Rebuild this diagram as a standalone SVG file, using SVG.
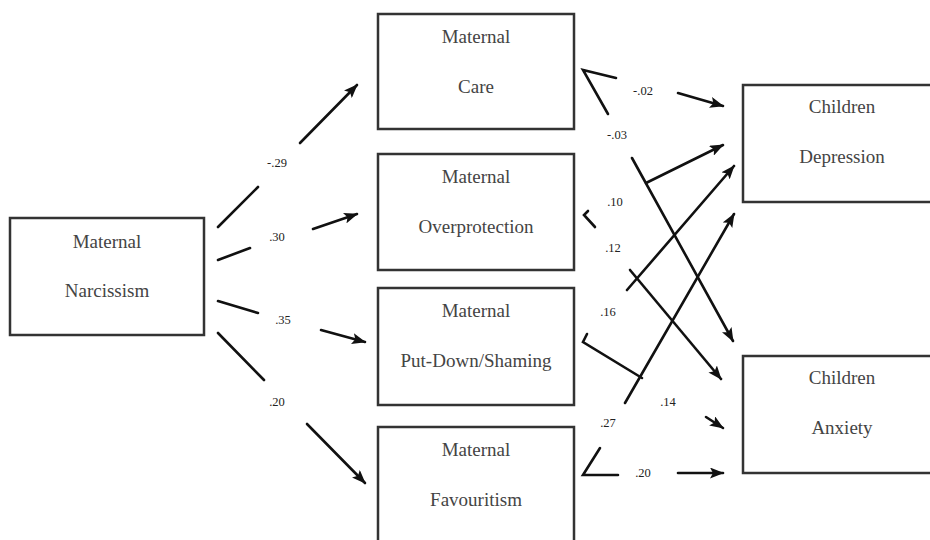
<svg xmlns="http://www.w3.org/2000/svg" width="930" height="540" viewBox="0 0 930 540">
<style>
.box{fill:#fff;stroke:#333;stroke-width:2.5}
.t{font-family:"Liberation Serif","Times New Roman",serif;font-size:19px;fill:#444;text-anchor:middle}
.l{font-family:"Liberation Serif","Times New Roman",serif;font-size:12.5px;fill:#222;text-anchor:middle}
.c{fill:none;stroke:#111;stroke-width:2.6;stroke-linecap:round;stroke-linejoin:miter}
.a{marker-end:url(#ah)}
</style>
<defs>
<marker id="ah" viewBox="0 0 14 11" refX="13" refY="5.5" markerWidth="14" markerHeight="11" markerUnits="userSpaceOnUse" orient="auto">
<path d="M0,0 L14,5.5 L0,11 L3,5.5 Z" fill="#111"/>
</marker>
</defs>
<rect width="930" height="540" fill="#fff"/>
<g id="narcissism"><rect class="box" x="10" y="218" width="194" height="117"/><text class="t" x="107" y="248">Maternal</text><text class="t" x="107" y="297">Narcissism</text></g>
<g id="care"><rect class="box" x="378" y="14" width="196" height="115"/><text class="t" x="476" y="43">Maternal</text><text class="t" x="476" y="93">Care</text></g>
<g id="overprotection"><rect class="box" x="378" y="154" width="196" height="116"/><text class="t" x="476" y="183">Maternal</text><text class="t" x="476" y="233">Overprotection</text></g>
<g id="putdown"><rect class="box" x="378" y="288" width="196" height="117"/><text class="t" x="476" y="317">Maternal</text><text class="t" x="476" y="367">Put-Down/Shaming</text></g>
<g id="favouritism"><rect class="box" x="378" y="427" width="196" height="125"/><text class="t" x="476" y="456">Maternal</text><text class="t" x="476" y="506">Favouritism</text></g>
<g id="depression"><rect class="box" x="743" y="85" width="205" height="117"/><text class="t" x="842" y="113">Children</text><text class="t" x="842" y="163">Depression</text></g>
<g id="anxiety"><rect class="box" x="743" y="356" width="205" height="117"/><text class="t" x="842" y="384">Children</text><text class="t" x="842" y="434">Anxiety</text></g>
<g id="connectors">
<path class="c" d="M218,227 L258,187"/><path class="c a" d="M300,143 L357,85"/>
<path class="c" d="M218,260 L250,248"/><path class="c a" d="M313,229 L357,214"/>
<path class="c" d="M218,301 L258,313"/><path class="c a" d="M321,330 L365,342"/>
<path class="c" d="M218,333 L264,380"/><path class="c a" d="M307,424 L365,483"/>
<path class="c" d="M616,78 L583,70 L608,114"/>
<path class="c a" d="M678,93 L723,106"/>
<path class="c a" d="M632,158 L733,341"/>
<path class="c a" d="M646,183 L723,145"/>
<path class="c" d="M588,211 L584,215 L595,227"/>
<path class="c a" d="M627,290 L734,166"/>
<path class="c a" d="M630,270 L721,379"/>
<path class="c" d="M587,334 L583,342 L642,378"/>
<path class="c a" d="M625,403 L734,214"/>
<path class="c a" d="M706,417 L723,428"/>
<path class="c" d="M600,448 L583,475 L618,475"/>
<path class="c a" d="M678,473 L723,473"/>
</g>
<g id="labels">
<text class="l" x="277" y="167">-.29</text>
<text class="l" x="277" y="241">.30</text>
<text class="l" x="283" y="324">.35</text>
<text class="l" x="277" y="406">.20</text>
<text class="l" x="643" y="95">-.02</text>
<text class="l" x="617" y="139">-.03</text>
<text class="l" x="615" y="206">.10</text>
<text class="l" x="613" y="252">.12</text>
<text class="l" x="608" y="316">.16</text>
<text class="l" x="668" y="406">.14</text>
<text class="l" x="608" y="427">.27</text>
<text class="l" x="643" y="477">.20</text>
</g>
</svg>
